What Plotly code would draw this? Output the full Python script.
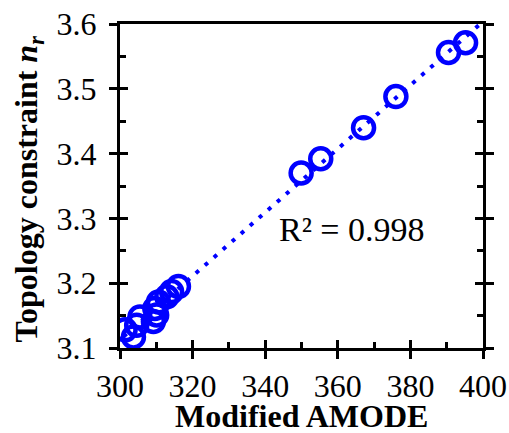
import numpy as np
import plotly.graph_objects as go

# Data
amode = [301.4, 303.7, 304.6, 305.5, 309.2, 310.1, 309.6, 310.6, 312.9, 314.2, 316.1,
         349.9, 355.3, 367.1, 376.0, 390.5, 395.2]
n_r = [3.128, 3.117, 3.135, 3.148, 3.141, 3.151, 3.161, 3.171, 3.179, 3.187, 3.195,
       3.370, 3.392, 3.440, 3.488, 3.556, 3.571]
fit_x_range = [301.0, 399.5]
r2_label = "R² = 0.998"
x_title = "<b>Modified AMODE</b>"
y_title = "<b>Topology constraint <i>n<sub>r</sub></i></b>"
x_range = [300, 400]
y_range = [3.1, 3.6]

slope, intercept = np.polyfit(amode, n_r, 1)
fit_x = np.array(fit_x_range)
fit_y = slope * fit_x + intercept

BLUE = "#0000FF"
FONT = "Liberation Serif"
FS = 32
TFS = 32

fig = go.Figure()
fig.add_trace(go.Scatter(x=fit_x, y=fit_y, mode="lines",
                         line=dict(color=BLUE, width=4, dash="4px,8px"),
                         showlegend=False, hoverinfo="skip"))
fig.add_trace(go.Scatter(x=amode, y=n_r, mode="markers",
                         marker=dict(symbol="circle-open", size=21, color=BLUE,
                                     line=dict(color=BLUE, width=4.5)),
                         showlegend=False))
fig.add_trace(go.Scatter(x=[None], y=[None], xaxis="x2", yaxis="y2", showlegend=False))

tk = dict(showgrid=False, zeroline=False, tickcolor="black", tickwidth=3, automargin=False)

fig.update_layout(
    width=509, height=433,
    margin=dict(l=120, r=26, t=24, b=85),
    paper_bgcolor="white", plot_bgcolor="white",
    font=dict(family=FONT, color="black", size=FS),
    xaxis=dict(range=x_range, tick0=300, dtick=20, ticks="outside", ticklen=8,
               showline=True, mirror=True, linecolor="black", linewidth=3,
               tickfont=dict(size=FS, family=FONT),
               **tk),
    xaxis2=dict(range=x_range, tick0=300, dtick=20, ticks="inside", ticklen=8,
                overlaying="x", side="bottom", showticklabels=False, showline=False,
                minor=dict(ticks="inside", ticklen=6, tick0=310, dtick=20,
                           tickcolor="black", tickwidth=3, showgrid=False),
                **tk),
    yaxis=dict(range=y_range, tick0=3.1, dtick=0.1, tickformat=".1f",
               ticks="outside", ticklen=8, showline=True, mirror="ticks",
               linecolor="black", linewidth=3,
               tickfont=dict(size=FS, family=FONT), ticklabelstandoff=6,
               **tk),
    yaxis2=dict(range=y_range, tick0=3.1, dtick=0.1, ticks="inside", ticklen=8,
                overlaying="y", side="left", showticklabels=False, showline=True, mirror="ticks",
                linecolor="black", linewidth=3,
                minor=dict(ticks="inside", ticklen=6, tick0=3.15, dtick=0.1,
                           tickcolor="black", tickwidth=3, showgrid=False),
                **tk),
    annotations=[
        dict(x=364, y=3.283, xref="x", yref="y", text=r2_label, showarrow=False,
             font=dict(size=34, family=FONT, color="black")),
        dict(x=0.5, y=-0.21, xref="paper", yref="paper", text=x_title, showarrow=False,
             xanchor="center", yanchor="middle", font=dict(size=TFS, family=FONT, color="black")),
        dict(x=-0.253, y=0.49, xref="paper", yref="paper", text=y_title, showarrow=False,
             textangle=-90, xanchor="center", yanchor="middle",
             font=dict(size=TFS, family=FONT, color="black")),
    ],
)
fig.write_html("out.html")
